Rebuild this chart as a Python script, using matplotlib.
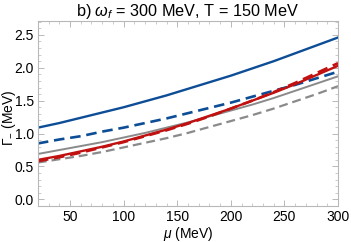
import matplotlib
matplotlib.use("Agg")
import matplotlib.pyplot as plt
from matplotlib.ticker import MultipleLocator

plt.rcParams["font.family"] = ["Liberation Sans", "DejaVu Sans"]
plt.rcParams["mathtext.fontset"] = "custom"
plt.rcParams["mathtext.rm"] = "Liberation Sans"
plt.rcParams["mathtext.it"] = "Liberation Sans:italic"

# ---------------------------------------------------------------------------
# Data (mu in MeV, Gamma in MeV)
# ---------------------------------------------------------------------------
mu = [20, 40, 60, 80, 100, 120, 140, 160, 180, 200, 220, 240, 260, 280, 300]

blue_solid  = [1.09, 1.16, 1.24, 1.32, 1.40, 1.49, 1.58, 1.68,
               1.78, 1.88, 1.99, 2.10, 2.22, 2.34, 2.46]
blue_dashed = [0.85, 0.91, 0.96, 1.03, 1.09, 1.16, 1.23, 1.31,
               1.39, 1.47, 1.56, 1.65, 1.74, 1.84, 1.94]
red_solid   = [0.60, 0.66, 0.73, 0.80, 0.88, 0.97, 1.06, 1.16,
               1.27, 1.38, 1.50, 1.62, 1.75, 1.89, 2.03]
red_dashed  = [0.58, 0.64, 0.71, 0.79, 0.87, 0.96, 1.05, 1.15,
               1.26, 1.38, 1.50, 1.63, 1.77, 1.92, 2.07]
gray_solid  = [0.69, 0.75, 0.81, 0.87, 0.94, 1.01, 1.09, 1.17,
               1.26, 1.35, 1.44, 1.54, 1.65, 1.76, 1.87]
gray_dashed = [0.56, 0.61, 0.66, 0.72, 0.79, 0.86, 0.93, 1.01,
               1.10, 1.19, 1.28, 1.38, 1.49, 1.60, 1.72]

BLUE = "#0d4d96"
RED = "#c01010"
GRAY = "#8a8a8a"
FRAME = "#b8b8b8"

fig = plt.figure(figsize=(3.51, 2.42), dpi=100)
ax = fig.add_axes([0.108, 0.149, 0.855, 0.764])

dash = (0, (4, 2.2))
ax.plot(mu, gray_dashed, color=GRAY, lw=1.6, linestyle=dash)
ax.plot(mu, gray_solid, color=GRAY, lw=1.4)
ax.plot(mu, blue_dashed, color=BLUE, lw=1.9, linestyle=dash)
ax.plot(mu, red_solid, color=RED, lw=1.7)
ax.plot(mu, red_dashed, color=RED, lw=1.9, linestyle=dash)
ax.plot(mu, blue_solid, color=BLUE, lw=1.7)

ax.set_xlim(20, 300)
ax.set_ylim(-0.1, 2.71)
ax.xaxis.set_major_locator(MultipleLocator(50))
ax.xaxis.set_minor_locator(MultipleLocator(10))
ax.yaxis.set_major_locator(MultipleLocator(0.5))
ax.yaxis.set_minor_locator(MultipleLocator(0.1))

for s in ax.spines.values():
    s.set_color(FRAME)
    s.set_linewidth(0.8)
ax.tick_params(which="both", direction="in", color=FRAME, top=True, right=True,
               labelsize=10, pad=3)
ax.tick_params(which="major", length=4, width=0.7)
ax.tick_params(which="minor", length=2, width=0.5)
ax.set_yticklabels([f"{v:.1f}" for v in ax.get_yticks()])

ax.set_xlabel(r"$\mu$ (MeV)", fontsize=10, labelpad=1)
ax.set_ylabel(r"$\Gamma_{-}$ (MeV)", fontsize=10)
ax.yaxis.set_label_coords(-0.067, 0.48)
ax.set_title(r"b) $\omega_f$ = 300 MeV, T = 150 MeV", fontsize=11.7, pad=3)

fig.savefig("out.png", dpi=100)
